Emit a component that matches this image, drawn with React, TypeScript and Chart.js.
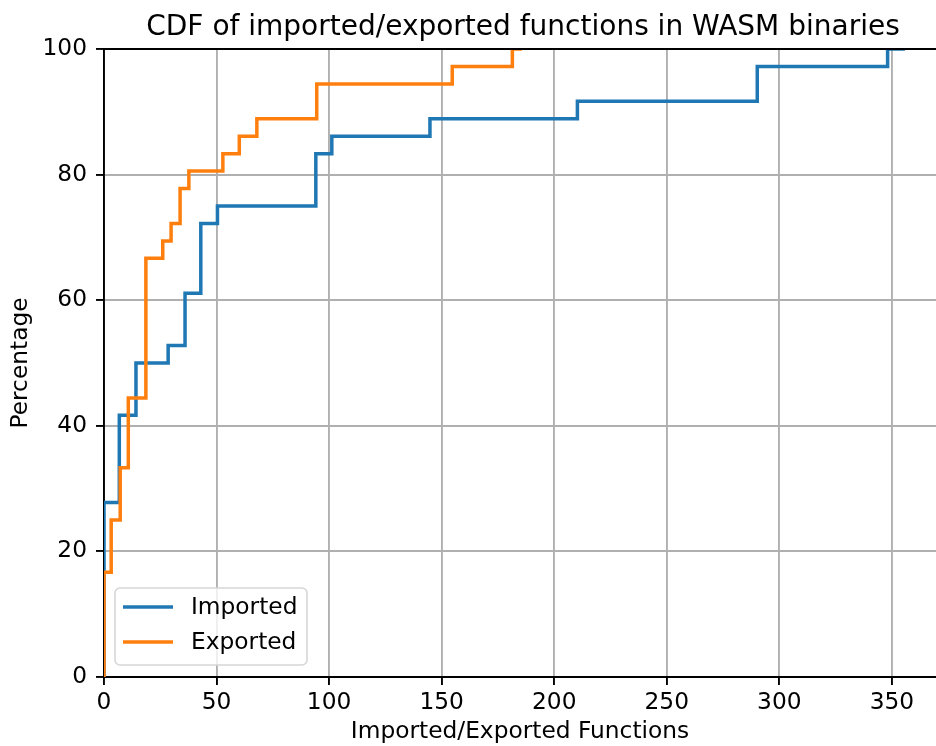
import React, { useEffect, useRef } from 'react';
import { Chart, registerables } from 'chart.js';

Chart.register(...registerables);

const TITLE = 'CDF of imported/exported functions in WASM binaries';
const X_LABEL = 'Imported/Exported Functions';
const Y_LABEL = 'Percentage';
const SERIES_NAMES = ['Imported', 'Exported'];

const importedX = [0, 0, 6.8, 14.2, 28.5, 36.0, 43.0, 50.4, 94.1, 101.2, 144.8, 210.3, 290.2, 348.1, 355.8];
const importedY = [0, 27.78, 41.67, 50, 52.78, 61.11, 72.22, 75, 83.33, 86.11, 88.89, 91.67, 97.22, 100, 100];
const exportedX = [0, 0, 3.2, 7.2, 10.8, 18.6, 26.1, 29.8, 33.8, 37.7, 52.8, 60.1, 67.9, 94.5, 154.7, 181.4, 185.6];
const exportedY = [0, 16.67, 25, 33.33, 44.44, 66.67, 69.44, 72.22, 77.78, 80.56, 83.33, 86.11, 88.89, 94.44, 97.22, 100, 100];

const xTicks = [0, 50, 100, 150, 200, 250, 300, 350];
const yTicks = [0, 20, 40, 60, 80, 100];

const BLUE = '#1f77b4';
const ORANGE = '#ff7f0e';
const FONT = '"DejaVu Sans", "Liberation Sans", sans-serif';
const FS = 23.3;

const toPoints = (xs: number[], ys: number[]) => xs.map((x, i) => ({ x, y: ys[i] }));

const decorPlugin = {
  id: 'decor',
  afterDraw(chart: any) {
    const { ctx, chartArea } = chart;
    ctx.save();
    // top spine
    ctx.strokeStyle = '#000';
    ctx.lineWidth = 1.9;
    ctx.beginPath();
    ctx.moveTo(chartArea.left - 0.9, chartArea.top);
    ctx.lineTo(chart.width, chartArea.top);
    ctx.stroke();

    // title
    ctx.fillStyle = '#000';
    ctx.font = `28px ${FONT}`;
    ctx.textAlign = 'center';
    ctx.textBaseline = 'alphabetic';
    ctx.fillText(TITLE, (chartArea.left + 942) / 2, 35);

    // legend
    const bx = 115, by = 588, bw = 192, bh = 77;
    ctx.beginPath();
    ctx.roundRect(bx, by, bw, bh, 5);
    ctx.fillStyle = 'rgba(255,255,255,0.8)';
    ctx.fill();
    ctx.strokeStyle = '#d6d6d6';
    ctx.lineWidth = 1.6;
    ctx.stroke();
    const colors = [BLUE, ORANGE];
    const rows = [607, 642];
    ctx.font = `${FS}px ${FONT}`;
    ctx.textAlign = 'left';
    ctx.textBaseline = 'middle';
    SERIES_NAMES.forEach((name, i) => {
      ctx.strokeStyle = colors[i];
      ctx.lineWidth = 3.5;
      ctx.beginPath();
      ctx.moveTo(123, rows[i]);
      ctx.lineTo(173, rows[i]);
      ctx.stroke();
      ctx.fillStyle = '#000';
      ctx.fillText(name, 191, rows[i] + 1);
    });
    ctx.restore();
  },
};

export default function App() {
  const ref = useRef<HTMLCanvasElement>(null);
  useEffect(() => {
    if (!ref.current) return;
    const chart = new Chart(ref.current, {
      type: 'line',
      data: {
        datasets: [
          {
            label: SERIES_NAMES[0],
            data: toPoints(importedX, importedY),
            borderColor: BLUE,
            backgroundColor: BLUE,
            borderWidth: 3.5,
            pointRadius: 0,
            stepped: 'before',
            fill: false,
            order: 1,
          },
          {
            label: SERIES_NAMES[1],
            data: toPoints(exportedX, exportedY),
            borderColor: ORANGE,
            backgroundColor: ORANGE,
            borderWidth: 3.5,
            pointRadius: 0,
            stepped: 'before',
            fill: false,
            order: 0,
          },
        ],
      },
      options: {
        responsive: false,
        animation: false,
        events: [],
        layout: { padding: { top: 49, left: 0, right: 0, bottom: 0 } },
        plugins: {
          legend: { display: false },
          title: { display: false },
          tooltip: { enabled: false },
        },
        scales: {
          x: {
            type: 'linear',
            min: 0,
            max: 369.6,
            afterFit: (s: any) => { s.height = 69; },
            afterBuildTicks: (s: any) => { s.ticks = xTicks.map((v) => ({ value: v })); },
            grid: { color: '#b0b0b0', lineWidth: 1.9, tickColor: '#000', tickLength: 8, tickWidth: 1.9 },
            border: { color: '#000', width: 1.9 },
            ticks: { color: '#000', font: { family: FONT, size: FS }, padding: 4, maxRotation: 0 },
            title: { display: true, text: X_LABEL, color: '#000', font: { family: FONT, size: FS }, padding: { top: 0, bottom: 0 } },
          },
          y: {
            type: 'linear',
            min: 0,
            max: 100,
            afterFit: (s: any) => { s.width = 104; },
            afterBuildTicks: (s: any) => { s.ticks = yTicks.map((v) => ({ value: v })); },
            grid: { color: '#b0b0b0', lineWidth: 1.9, tickColor: '#000', tickLength: 8, tickWidth: 1.9 },
            border: { color: '#000', width: 1.9 },
            ticks: { color: '#000', font: { family: FONT, size: FS }, padding: 9 },
            title: { display: true, text: Y_LABEL, color: '#000', font: { family: FONT, size: FS }, padding: { top: 7, bottom: 0 } },
          },
        },
      },
      plugins: [decorPlugin],
    });
    return () => chart.destroy();
  }, []);
  return (
    <div style={{ position: 'fixed', left: 0, top: 0, width: 936, height: 746, background: '#fff' }}>
      <canvas ref={ref} width={936} height={746} style={{ display: 'block' }} />
    </div>
  );
}
